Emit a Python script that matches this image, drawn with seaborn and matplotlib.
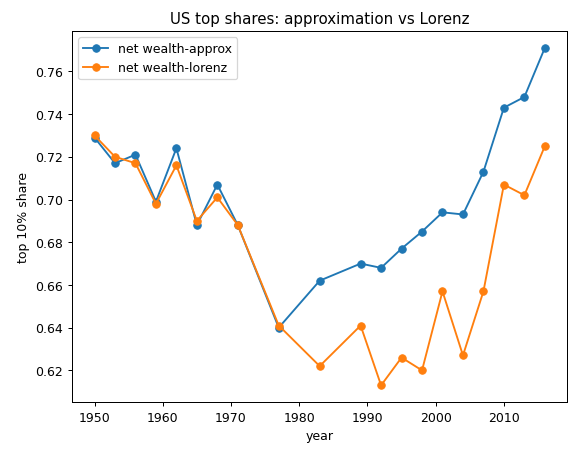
import matplotlib
matplotlib.use("Agg")
import matplotlib.pyplot as plt
import seaborn as sns
import pandas as pd

years = [1950, 1953, 1956, 1959, 1962, 1965, 1968, 1971, 1977, 1983,
         1989, 1992, 1995, 1998, 2001, 2004, 2007, 2010, 2013, 2016]
approx = [0.729, 0.717, 0.721, 0.699, 0.724, 0.688, 0.707, 0.688, 0.640, 0.662,
          0.670, 0.668, 0.677, 0.685, 0.694, 0.693, 0.713, 0.743, 0.748, 0.771]
lorenz = [0.730, 0.720, 0.717, 0.698, 0.716, 0.690, 0.701, 0.688, 0.641, 0.622,
          0.641, 0.613, 0.626, 0.620, 0.657, 0.627, 0.657, 0.707, 0.702, 0.725]

df = pd.DataFrame({"year": years,
                   "net wealth-approx": approx,
                   "net wealth-lorenz": lorenz})

fig, ax = plt.subplots(figsize=(6.4, 5.03), dpi=90)
for col, c in [("net wealth-approx", "#1f77b4"), ("net wealth-lorenz", "#ff7f0e")]:
    sns.lineplot(data=df, x="year", y=col, marker="o", markersize=6,
                 markeredgecolor=c, color=c, label=col, ax=ax)
ax.set_title("US top shares: approximation vs Lorenz")
ax.set_xlabel("year")
ax.set_ylabel("top 10% share")
ax.legend(loc="upper left")
fig.subplots_adjust(left=0.125, right=0.985, top=0.93, bottom=0.11)
fig.savefig("out.png")
